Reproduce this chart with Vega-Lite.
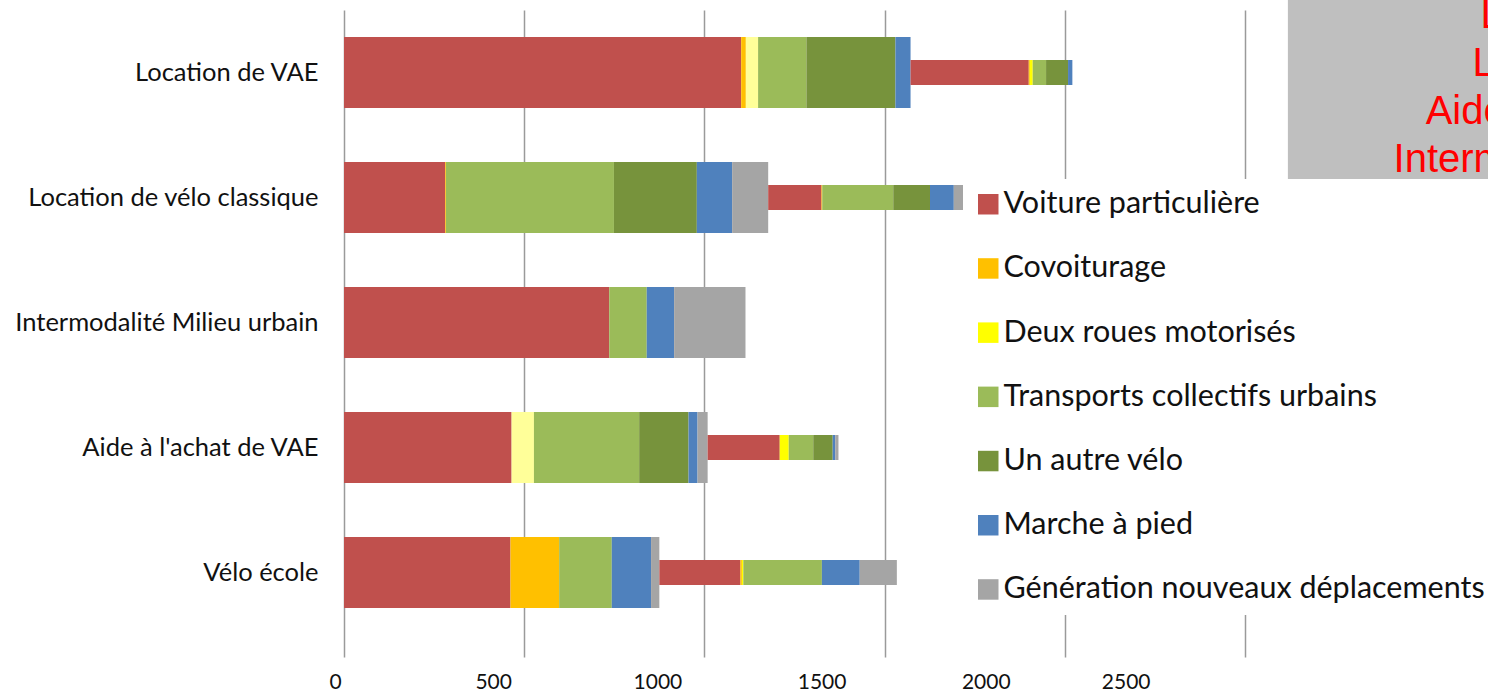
{
  "$schema": "https://vega.github.io/schema/vega-lite/v6.json",
  "autosize": {"type": "none"},
  "width": 901,
  "height": 647,
  "padding": {"left": 344, "top": 10, "right": 243, "bottom": 37},
  "background": "white",
  "config": {
    "view": {"stroke": null},
    "font": "Lato",
    "legend": {"labelFont": "Lato", "labelFontSize": 30.5, "labelColor": "#111111"}
  },
  "datasets": {
    "trajets": [
      {"categorie": "Location de VAE", "serie": "A", "mode": "Voiture particulière", "valeur": 1102},
      {"categorie": "Location de VAE", "serie": "A", "mode": "Covoiturage", "valeur": 13},
      {"categorie": "Location de VAE", "serie": "A", "mode": "Deux roues motorisés", "valeur": 34},
      {"categorie": "Location de VAE", "serie": "A", "mode": "Transports collectifs urbains", "valeur": 134},
      {"categorie": "Location de VAE", "serie": "A", "mode": "Un autre vélo", "valeur": 247},
      {"categorie": "Location de VAE", "serie": "A", "mode": "Marche à pied", "valeur": 42},
      {"categorie": "Location de VAE", "serie": "B", "mode": "Voiture particulière", "valeur": 328},
      {"categorie": "Location de VAE", "serie": "B", "mode": "Covoiturage", "valeur": 3},
      {"categorie": "Location de VAE", "serie": "B", "mode": "Deux roues motorisés", "valeur": 8},
      {"categorie": "Location de VAE", "serie": "B", "mode": "Transports collectifs urbains", "valeur": 37},
      {"categorie": "Location de VAE", "serie": "B", "mode": "Un autre vélo", "valeur": 61},
      {"categorie": "Location de VAE", "serie": "B", "mode": "Marche à pied", "valeur": 12},
      {"categorie": "Location de vélo classique", "serie": "A", "mode": "Voiture particulière", "valeur": 281},
      {"categorie": "Location de vélo classique", "serie": "A", "mode": "Covoiturage", "valeur": 2},
      {"categorie": "Location de vélo classique", "serie": "A", "mode": "Transports collectifs urbains", "valeur": 466},
      {"categorie": "Location de vélo classique", "serie": "A", "mode": "Un autre vélo", "valeur": 230},
      {"categorie": "Location de vélo classique", "serie": "A", "mode": "Marche à pied", "valeur": 98},
      {"categorie": "Location de vélo classique", "serie": "A", "mode": "Génération nouveaux déplacements", "valeur": 100},
      {"categorie": "Location de vélo classique", "serie": "B", "mode": "Voiture particulière", "valeur": 148},
      {"categorie": "Location de vélo classique", "serie": "B", "mode": "Covoiturage", "valeur": 2},
      {"categorie": "Location de vélo classique", "serie": "B", "mode": "Transports collectifs urbains", "valeur": 197},
      {"categorie": "Location de vélo classique", "serie": "B", "mode": "Un autre vélo", "valeur": 102},
      {"categorie": "Location de vélo classique", "serie": "B", "mode": "Marche à pied", "valeur": 66},
      {"categorie": "Location de vélo classique", "serie": "B", "mode": "Génération nouveaux déplacements", "valeur": 34},
      {"categorie": "Intermodalité Milieu urbain", "serie": "A", "mode": "Voiture particulière", "valeur": 736},
      {"categorie": "Intermodalité Milieu urbain", "serie": "A", "mode": "Transports collectifs urbains", "valeur": 104},
      {"categorie": "Intermodalité Milieu urbain", "serie": "A", "mode": "Marche à pied", "valeur": 76},
      {"categorie": "Intermodalité Milieu urbain", "serie": "A", "mode": "Génération nouveaux déplacements", "valeur": 198},
      {"categorie": "Aide à l'achat de VAE", "serie": "A", "mode": "Voiture particulière", "valeur": 465},
      {"categorie": "Aide à l'achat de VAE", "serie": "A", "mode": "Deux roues motorisés", "valeur": 62},
      {"categorie": "Aide à l'achat de VAE", "serie": "A", "mode": "Transports collectifs urbains", "valeur": 292},
      {"categorie": "Aide à l'achat de VAE", "serie": "A", "mode": "Un autre vélo", "valeur": 137},
      {"categorie": "Aide à l'achat de VAE", "serie": "A", "mode": "Marche à pied", "valeur": 25},
      {"categorie": "Aide à l'achat de VAE", "serie": "A", "mode": "Génération nouveaux déplacements", "valeur": 28},
      {"categorie": "Aide à l'achat de VAE", "serie": "B", "mode": "Voiture particulière", "valeur": 200},
      {"categorie": "Aide à l'achat de VAE", "serie": "B", "mode": "Deux roues motorisés", "valeur": 25},
      {"categorie": "Aide à l'achat de VAE", "serie": "B", "mode": "Transports collectifs urbains", "valeur": 68},
      {"categorie": "Aide à l'achat de VAE", "serie": "B", "mode": "Un autre vélo", "valeur": 54},
      {"categorie": "Aide à l'achat de VAE", "serie": "B", "mode": "Marche à pied", "valeur": 7},
      {"categorie": "Aide à l'achat de VAE", "serie": "B", "mode": "Génération nouveaux déplacements", "valeur": 9},
      {"categorie": "Vélo école", "serie": "A", "mode": "Voiture particulière", "valeur": 462},
      {"categorie": "Vélo école", "serie": "A", "mode": "Covoiturage", "valeur": 135},
      {"categorie": "Vélo école", "serie": "A", "mode": "Transports collectifs urbains", "valeur": 146},
      {"categorie": "Vélo école", "serie": "A", "mode": "Marche à pied", "valeur": 109},
      {"categorie": "Vélo école", "serie": "A", "mode": "Génération nouveaux déplacements", "valeur": 23},
      {"categorie": "Vélo école", "serie": "B", "mode": "Voiture particulière", "valeur": 225},
      {"categorie": "Vélo école", "serie": "B", "mode": "Covoiturage", "valeur": 4},
      {"categorie": "Vélo école", "serie": "B", "mode": "Deux roues motorisés", "valeur": 4},
      {"categorie": "Vélo école", "serie": "B", "mode": "Transports collectifs urbains", "valeur": 218},
      {"categorie": "Vélo école", "serie": "B", "mode": "Marche à pied", "valeur": 105},
      {"categorie": "Vélo école", "serie": "B", "mode": "Génération nouveaux déplacements", "valeur": 103}
    ],
    "encadre": [
      {"debut": 2619, "fin": 3500, "haut": -12, "bas": 178}
    ],
    "lignes": [
      {"texte": "Location de VAE", "position": 3563, "ligne": 18},
      {"texte": "Location de vélos", "position": 3563, "ligne": 66},
      {"texte": "Aide à l'achat de VAE :", "position": 3563, "ligne": 114},
      {"texte": "Intermodalité Milieu urbain", "position": 3563, "ligne": 162}
    ]
  },
  "layer": [
    {
      "layer": [
        {
          "data": {"name": "trajets"},
          "transform": [
            {"window": [{"op": "row_number", "as": "rang"}]},
            {"stack": "valeur", "groupby": ["categorie"], "sort": [{"field": "rang", "order": "ascending"}], "as": ["debut", "fin"]},
            {"filter": "datum.serie === 'A'"}
          ],
          "mark": {"type": "bar", "height": 71},
          "encoding": {
            "y": {
              "field": "categorie", "type": "nominal",
              "sort": ["Location de VAE", "Location de vélo classique", "Intermodalité Milieu urbain", "Aide à l'achat de VAE", "Vélo école"],
              "scale": {"paddingInner": 0, "paddingOuter": 0.088, "align": 0},
              "axis": {"title": null, "ticks": false, "domain": false, "labelPadding": 26, "labelFont": "Lato", "labelFontSize": 25.5, "labelColor": "#111111", "labelLimit": 400}
            },
            "x": {
              "field": "debut", "type": "quantitative",
              "scale": {"domain": [0, 2500], "nice": false},
              "axis": {
                "title": null, "values": [0, 500, 1000, 1500, 2000, 2500], "format": "d",
                "domain": false, "ticks": false,
                "grid": true, "gridColor": "#9a9a9a", "gridWidth": 1.5,
                "labelFont": "Lato", "labelFontSize": 21, "labelColor": "#111111", "labelPadding": 14,
                "labelOffset": {"expr": "-15 - datum.value * 0.032"}
              }
            },
            "x2": {"field": "fin"},
            "color": {
              "condition": {"test": "datum.mode === 'Deux roues motorisés'", "value": "#FFFF99"},
              "field": "mode", "type": "nominal",
              "scale": {
                "domain": ["Voiture particulière", "Covoiturage", "Deux roues motorisés", "Transports collectifs urbains", "Un autre vélo", "Marche à pied", "Génération nouveaux déplacements"],
                "range": ["#C0504D", "#FFC000", "#FFFF00", "#9BBB59", "#77933C", "#4F81BD", "#A5A5A5"]
              },
              "legend": {
                "title": null, "orient": "none", "legendX": 619, "legendY": 169,
                "fillColor": "white", "padding": 10,
                "symbolType": "square", "symbolSize": 420, "symbolStrokeWidth": 0, "symbolOpacity": 1,
                "labelOffset": 0, "rowPadding": 33.2, "labelLimit": 600
              }
            }
          }
        },
        {
          "data": {"name": "trajets"},
          "transform": [
            {"window": [{"op": "row_number", "as": "rang"}]},
            {"stack": "valeur", "groupby": ["categorie"], "sort": [{"field": "rang", "order": "ascending"}], "as": ["debut", "fin"]},
            {"filter": "datum.serie === 'B'"}
          ],
          "mark": {"type": "bar", "height": 25},
          "encoding": {
            "y": {"field": "categorie", "type": "nominal", "sort": ["Location de VAE", "Location de vélo classique", "Intermodalité Milieu urbain", "Aide à l'achat de VAE", "Vélo école"]},
            "x": {"field": "debut", "type": "quantitative", "scale": {"domain": [0, 2500], "nice": false}},
            "x2": {"field": "fin"},
            "color": {"field": "mode", "type": "nominal"}
          }
        }
      ]
    },
    {
      "layer": [
        {
          "data": {"name": "encadre"},
          "mark": {"type": "rect", "color": "#BFBFBF"},
          "encoding": {
            "x": {"field": "debut", "type": "quantitative", "scale": {"domain": [0, 2500], "nice": false}},
            "x2": {"field": "fin"},
            "y": {"field": "haut", "type": "quantitative", "scale": {"domain": [0, 647], "reverse": true, "nice": false, "zero": false}, "axis": null},
            "y2": {"field": "bas"}
          }
        },
        {
          "data": {"name": "lignes"},
          "mark": {"type": "text", "font": "Liberation Sans", "fontSize": 40, "color": "#FF0000", "align": "center", "baseline": "alphabetic"},
          "encoding": {
            "x": {"field": "position", "type": "quantitative", "scale": {"domain": [0, 2500], "nice": false}},
            "y": {"field": "ligne", "type": "quantitative", "axis": null},
            "text": {"field": "texte"}
          }
        }
      ]
    }
  ],
  "resolve": {"scale": {"y": "independent"}, "axis": {"y": "independent"}}
}
